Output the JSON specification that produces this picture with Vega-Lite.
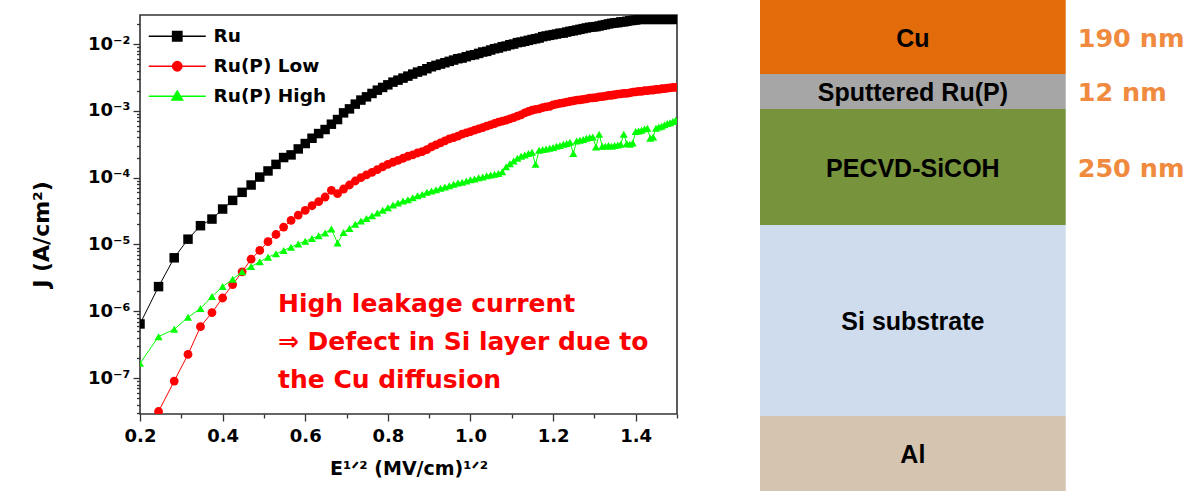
{
  "$schema": "https://vega.github.io/schema/vega-lite/v6.json",
  "padding": {"left": 29, "top": 0, "right": 0, "bottom": 0},
  "background": "white",
  "spacing": 81,
  "resolve": {"scale": {"color": "independent"}, "legend": {"color": "independent"}},
  "config": {
    "view": {"stroke": null},
    "axis": {
      "labelFont": "DejaVu Sans", "labelFontWeight": "bold", "labelColor": "#000000",
      "titleFont": "DejaVu Sans", "titleFontWeight": "bold", "titleColor": "#000000",
      "tickColor": "#333333", "tickWidth": 1.3, "grid": false, "domain": false,
      "labelOverlap": false, "labelFlush": false, "labelBound": false
    }
  },
  "hconcat": [
    {
      "width": 537,
      "height": 399,
      "view": {"stroke": "#333333", "strokeWidth": 1.6},
      "layer": [
        {
          "data": {"name": "jv"},
          "transform": [
            {"fold": ["Ru", "Ru(P) Low", "Ru(P) High"], "as": ["series", "J"]},
            {"filter": "isValid(datum.J)"}
          ],
          "mark": {"type": "line", "strokeWidth": 1, "clip": true},
          "encoding": {
            "x": {
              "field": "E", "type": "quantitative",
              "scale": {"domain": [0.2, 1.5], "nice": false, "zero": false},
              "axis": {
                "orient": "bottom",
                "values": [0.2, 0.3, 0.4, 0.5, 0.6, 0.7, 0.8, 0.9, 1.0, 1.1, 1.2, 1.3, 1.4, 1.5],
                "labelExpr": "indexof([0.2, 0.4, 0.6, 0.8, 1, 1.2, 1.4], datum.value) >= 0 ? format(datum.value, '.1f') : ''",
                "tickSize": {"condition": {"test": "indexof([0.2, 0.4, 0.6, 0.8, 1, 1.2, 1.4], datum.value) >= 0", "value": 7}, "value": 4},
                "labelFontSize": 18,
                "labelPadding": 6,
                "title": "E¹ᐟ² (MV/cm)¹ᐟ²",
                "titleFontSize": 19,
                "titlePadding": 14
              }
            },
            "y": {
              "field": "J", "type": "quantitative",
              "scale": {"type": "log", "domain": [2.9e-8, 0.0272], "nice": false},
              "axis": {
                "orient": "left",
                "values": [3e-8, 4e-8, 5e-8, 6e-8, 7e-8, 8e-8, 9e-8,
                           1e-7, 2e-7, 3e-7, 4e-7, 5e-7, 6e-7, 7e-7, 8e-7, 9e-7,
                           1e-6, 2e-6, 3e-6, 4e-6, 5e-6, 6e-6, 7e-6, 8e-6, 9e-6,
                           1e-5, 2e-5, 3e-5, 4e-5, 5e-5, 6e-5, 7e-5, 8e-5, 9e-5,
                           1e-4, 2e-4, 3e-4, 4e-4, 5e-4, 6e-4, 7e-4, 8e-4, 9e-4,
                           1e-3, 2e-3, 3e-3, 4e-3, 5e-3, 6e-3, 7e-3, 8e-3, 9e-3,
                           1e-2, 2e-2],
                "labelExpr": "datum.value === 0.01 ? '10⁻²' : datum.value === 0.001 ? '10⁻³' : datum.value === 0.0001 ? '10⁻⁴' : datum.value === 0.00001 ? '10⁻⁵' : datum.value === 0.000001 ? '10⁻⁶' : datum.value === 0.0000001 ? '10⁻⁷' : ''",
                "tickSize": {"condition": {"test": "indexof([0.01, 0.001, 0.0001, 0.00001, 0.000001, 0.0000001], datum.value) >= 0", "value": 7}, "value": 3.5},
                "labelFontSize": 18,
                "labelPadding": 3,
                "title": "J (A/cm²)",
                "titleFontSize": 22,
                "titlePadding": 34,
                "titleY": 219
              }
            },
            "color": {
              "field": "series", "type": "nominal",
              "scale": {"domain": ["Ru", "Ru(P) Low", "Ru(P) High"], "range": ["#000000", "#ff0000", "#00ff00"]},
              "legend": {
                "orient": "none", "legendX": 28, "legendY": 12, "title": null, "padding": 0,
                "labelFont": "DejaVu Sans", "labelFontSize": 18.5, "labelFontWeight": "bold", "labelColor": "#000000",
                "labelOffset": 27, "symbolSize": 100, "rowPadding": 11,
                "encode": {
                  "symbols": {
                    "update": {
                      "shape": {"signal": "datum.value === 'Ru' ? 'M-5.7,0H5.7M-0.95,-0.95H0.95V0.95H-0.95Z' : datum.value === 'Ru(P) Low' ? 'M-5.7,0H5.7M-0.95,0A0.95,0.95,0,1,0,0.95,0A0.95,0.95,0,1,0,-0.95,0Z' : 'M-5.7,0H5.7M0,-1.1L1.1,0.75H-1.1Z'"},
                      "fill": {"signal": "datum.value === 'Ru' ? '#000000' : datum.value === 'Ru(P) Low' ? '#ff0000' : '#00ff00'"},
                      "stroke": {"signal": "datum.value === 'Ru' ? '#000000' : datum.value === 'Ru(P) Low' ? '#ff0000' : '#00ff00'"},
                      "strokeWidth": {"value": 1.3},
                      "opacity": {"value": 1},
                      "fillOpacity": {"value": 1},
                      "strokeOpacity": {"value": 1}
                    }
                  }
                }
              }
            }
          }
        },
        {
          "data": {"name": "jv"},
          "transform": [
            {"fold": ["Ru", "Ru(P) Low", "Ru(P) High"], "as": ["series", "J"]},
            {"filter": "isValid(datum.J)"}
          ],
          "mark": {"type": "point", "filled": true, "opacity": 1, "strokeWidth": 0, "clip": true},
          "encoding": {
            "x": {"field": "E", "type": "quantitative"},
            "y": {"field": "J", "type": "quantitative"},
            "color": {"field": "series", "type": "nominal"},
            "shape": {
              "field": "series", "type": "nominal",
              "scale": {"domain": ["Ru", "Ru(P) Low", "Ru(P) High"], "range": ["square", "circle", "triangle-up"]},
              "legend": null
            },
            "size": {
              "field": "series", "type": "nominal",
              "scale": {"domain": ["Ru", "Ru(P) Low", "Ru(P) High"], "range": [90, 65, 90]},
              "legend": null
            }
          }
        },
        {
          "data": {"values": [{"note": ["High leakage current", "⇒ Defect in Si layer due to", "the Cu diffusion"], "E": 0.534, "J": 9.73e-7}]},
          "mark": {
            "type": "text",
            "font": "DejaVu Sans", "fontWeight": "bold", "fontSize": 25,
            "align": "left", "baseline": "alphabetic", "lineHeight": 38,
            "fill": "#ff0000"
          },
          "encoding": {
            "x": {"field": "E", "type": "quantitative"},
            "y": {"field": "J", "type": "quantitative"},
            "text": {"field": "note"}
          }
        }
      ]
    },
    {
      "width": 428,
      "height": 476,
      "data": {
        "values": [
          {"layer": "Cu", "top": 0, "bottom": 74, "thickness": "190 nm"},
          {"layer": "Sputtered Ru(P)", "top": 74, "bottom": 109, "thickness": "12 nm"},
          {"layer": "PECVD-SiCOH", "top": 109, "bottom": 225, "thickness": "250 nm"},
          {"layer": "Si substrate", "top": 225, "bottom": 416, "thickness": ""},
          {"layer": "Al", "top": 416, "bottom": 491, "thickness": ""}
        ]
      },
      "transform": [{"calculate": "(datum.top + datum.bottom) / 2", "as": "mid"}],
      "layer": [
        {
          "mark": {"type": "rect"},
          "encoding": {
            "x": {"datum": 0, "type": "quantitative", "scale": {"domain": [0, 1.4], "nice": false, "zero": false}, "axis": null},
            "x2": {"datum": 1},
            "y": {"field": "top", "type": "quantitative", "scale": {"domain": [15, 491], "reverse": true, "nice": false, "zero": false}, "axis": null},
            "y2": {"field": "bottom"},
            "color": {
              "field": "layer", "type": "nominal",
              "scale": {
                "domain": ["Cu", "Sputtered Ru(P)", "PECVD-SiCOH", "Si substrate", "Al"],
                "range": ["#e36c0a", "#a6a6a6", "#77933c", "#cfdcee", "#d5c4b0"]
              },
              "legend": null
            }
          }
        },
        {
          "mark": {"type": "text", "font": "Liberation Sans", "fontWeight": "bold", "fontSize": 25, "color": "#000000", "dy": 1.5},
          "encoding": {
            "x": {"datum": 0.5, "type": "quantitative"},
            "y": {"field": "mid", "type": "quantitative"},
            "text": {"field": "layer"}
          }
        },
        {
          "mark": {"type": "text", "font": "DejaVu Sans", "fontWeight": "bold", "fontSize": 25.5, "color": "#f08a3e", "align": "left", "dy": 1.5},
          "encoding": {
            "x": {"datum": 1.039, "type": "quantitative"},
            "y": {"field": "mid", "type": "quantitative"},
            "text": {"field": "thickness"}
          }
        }
      ]
    }
  ],
  "datasets": {
    "jv": [
      {"E": 0.2, "Ru": 6.46e-7, "Ru(P) Low": null, "Ru(P) High": 1.66e-7},
      {"E": 0.2449, "Ru": 2.34e-6, "Ru(P) Low": 3.16e-8, "Ru(P) High": 4.17e-7},
      {"E": 0.2828, "Ru": 6.31e-6, "Ru(P) Low": 9.02e-8, "Ru(P) High": 5.37e-7},
      {"E": 0.3162, "Ru": 1.20e-5, "Ru(P) Low": 2.26e-7, "Ru(P) High": 8.13e-7},
      {"E": 0.3464, "Ru": 1.91e-5, "Ru(P) Low": 5.89e-7, "Ru(P) High": 1.10e-6},
      {"E": 0.3742, "Ru": 2.40e-5, "Ru(P) Low": 9.55e-7, "Ru(P) High": 1.66e-6},
      {"E": 0.4, "Ru": 3.39e-5, "Ru(P) Low": 1.58e-6, "Ru(P) High": 2.34e-6},
      {"E": 0.4243, "Ru": 4.57e-5, "Ru(P) Low": 2.51e-6, "Ru(P) High": 3.02e-6},
      {"E": 0.4472, "Ru": 6.03e-5, "Ru(P) Low": 3.89e-6, "Ru(P) High": 3.89e-6},
      {"E": 0.469, "Ru": 7.76e-5, "Ru(P) Low": 6.03e-6, "Ru(P) High": 4.68e-6},
      {"E": 0.4899, "Ru": 1.02e-4, "Ru(P) Low": 8.13e-6, "Ru(P) High": 5.50e-6},
      {"E": 0.5099, "Ru": 1.26e-4, "Ru(P) Low": 1.10e-5, "Ru(P) High": 6.46e-6},
      {"E": 0.5292, "Ru": 1.58e-4, "Ru(P) Low": 1.41e-5, "Ru(P) High": 7.24e-6},
      {"E": 0.5477, "Ru": 2.00e-4, "Ru(P) Low": 1.82e-5, "Ru(P) High": 8.13e-6},
      {"E": 0.5657, "Ru": 2.19e-4, "Ru(P) Low": 2.29e-5, "Ru(P) High": 9.12e-6},
      {"E": 0.5831, "Ru": 2.69e-4, "Ru(P) Low": 2.75e-5, "Ru(P) High": 1.02e-5},
      {"E": 0.6, "Ru": 3.24e-4, "Ru(P) Low": 3.24e-5, "Ru(P) High": 1.12e-5},
      {"E": 0.6164, "Ru": 3.89e-4, "Ru(P) Low": 3.80e-5, "Ru(P) High": 1.23e-5},
      {"E": 0.6325, "Ru": 4.57e-4, "Ru(P) Low": 4.37e-5, "Ru(P) High": 1.35e-5},
      {"E": 0.6481, "Ru": 5.25e-4, "Ru(P) Low": 5.13e-5, "Ru(P) High": 1.48e-5},
      {"E": 0.6633, "Ru": 6.31e-4, "Ru(P) Low": 6.46e-5, "Ru(P) High": 1.70e-5},
      {"E": 0.6782, "Ru": 7.41e-4, "Ru(P) Low": 5.75e-5, "Ru(P) High": 1.05e-5},
      {"E": 0.6928, "Ru": 9.33e-4, "Ru(P) Low": 6.76e-5, "Ru(P) High": 1.51e-5},
      {"E": 0.7071, "Ru": 1.07e-3, "Ru(P) Low": 7.76e-5, "Ru(P) High": 1.74e-5},
      {"E": 0.7211, "Ru": 1.26e-3, "Ru(P) Low": 8.91e-5, "Ru(P) High": 2.00e-5},
      {"E": 0.7348, "Ru": 1.45e-3, "Ru(P) Low": 1.00e-4, "Ru(P) High": 2.24e-5},
      {"E": 0.7483, "Ru": 1.62e-3, "Ru(P) Low": 1.10e-4, "Ru(P) High": 2.45e-5},
      {"E": 0.7616, "Ru": 1.82e-3, "Ru(P) Low": 1.20e-4, "Ru(P) High": 2.69e-5},
      {"E": 0.7746, "Ru": 2.04e-3, "Ru(P) Low": 1.32e-4, "Ru(P) High": 2.95e-5},
      {"E": 0.7874, "Ru": 2.24e-3, "Ru(P) Low": 1.45e-4, "Ru(P) High": 3.24e-5},
      {"E": 0.8, "Ru": 2.45e-3, "Ru(P) Low": 1.58e-4, "Ru(P) High": 3.55e-5},
      {"E": 0.8124, "Ru": 2.69e-3, "Ru(P) Low": 1.70e-4, "Ru(P) High": 3.89e-5},
      {"E": 0.8246, "Ru": 2.88e-3, "Ru(P) Low": 1.82e-4, "Ru(P) High": 4.17e-5},
      {"E": 0.8367, "Ru": 3.09e-3, "Ru(P) Low": 1.95e-4, "Ru(P) High": 4.47e-5},
      {"E": 0.8485, "Ru": 3.31e-3, "Ru(P) Low": 2.09e-4, "Ru(P) High": 4.68e-5},
      {"E": 0.8602, "Ru": 3.55e-3, "Ru(P) Low": 2.19e-4, "Ru(P) High": 5.01e-5},
      {"E": 0.8718, "Ru": 3.80e-3, "Ru(P) Low": 2.34e-4, "Ru(P) High": 5.37e-5},
      {"E": 0.8832, "Ru": 3.98e-3, "Ru(P) Low": 2.45e-4, "Ru(P) High": 5.62e-5},
      {"E": 0.8944, "Ru": 4.27e-3, "Ru(P) Low": 2.63e-4, "Ru(P) High": 6.03e-5},
      {"E": 0.9055, "Ru": 4.57e-3, "Ru(P) Low": 2.88e-4, "Ru(P) High": 6.31e-5},
      {"E": 0.9165, "Ru": 4.79e-3, "Ru(P) Low": 3.09e-4, "Ru(P) High": 6.61e-5},
      {"E": 0.9274, "Ru": 5.01e-3, "Ru(P) Low": 3.31e-4, "Ru(P) High": 6.92e-5},
      {"E": 0.9381, "Ru": 5.25e-3, "Ru(P) Low": 3.55e-4, "Ru(P) High": 7.24e-5},
      {"E": 0.9487, "Ru": 5.50e-3, "Ru(P) Low": 3.80e-4, "Ru(P) High": 7.59e-5},
      {"E": 0.9592, "Ru": 5.75e-3, "Ru(P) Low": 3.98e-4, "Ru(P) High": 7.94e-5},
      {"E": 0.9695, "Ru": 6.03e-3, "Ru(P) Low": 4.17e-4, "Ru(P) High": 8.32e-5},
      {"E": 0.9798, "Ru": 6.17e-3, "Ru(P) Low": 4.47e-4, "Ru(P) High": 8.51e-5},
      {"E": 0.9899, "Ru": 6.46e-3, "Ru(P) Low": 4.68e-4, "Ru(P) High": 8.91e-5},
      {"E": 1.0, "Ru": 6.76e-3, "Ru(P) Low": 4.90e-4, "Ru(P) High": 9.33e-5},
      {"E": 1.01, "Ru": 6.92e-3, "Ru(P) Low": 5.13e-4, "Ru(P) High": 9.55e-5},
      {"E": 1.0198, "Ru": 7.24e-3, "Ru(P) Low": 5.37e-4, "Ru(P) High": 1.00e-4},
      {"E": 1.0296, "Ru": 7.59e-3, "Ru(P) Low": 5.62e-4, "Ru(P) High": 1.02e-4},
      {"E": 1.0392, "Ru": 7.76e-3, "Ru(P) Low": 5.89e-4, "Ru(P) High": 1.07e-4},
      {"E": 1.0488, "Ru": 8.13e-3, "Ru(P) Low": 6.17e-4, "Ru(P) High": 1.10e-4},
      {"E": 1.0583, "Ru": 8.51e-3, "Ru(P) Low": 6.46e-4, "Ru(P) High": 1.12e-4},
      {"E": 1.0677, "Ru": 8.71e-3, "Ru(P) Low": 6.76e-4, "Ru(P) High": 1.15e-4},
      {"E": 1.077, "Ru": 9.12e-3, "Ru(P) Low": 7.00e-4, "Ru(P) High": 1.23e-4},
      {"E": 1.0863, "Ru": 9.33e-3, "Ru(P) Low": 7.24e-4, "Ru(P) High": 1.45e-4},
      {"E": 1.0954, "Ru": 9.77e-3, "Ru(P) Low": 7.59e-4, "Ru(P) High": 1.62e-4},
      {"E": 1.1045, "Ru": 1.00e-2, "Ru(P) Low": 7.94e-4, "Ru(P) High": 1.78e-4},
      {"E": 1.1136, "Ru": 1.05e-2, "Ru(P) Low": 8.32e-4, "Ru(P) High": 1.95e-4},
      {"E": 1.1225, "Ru": 1.07e-2, "Ru(P) Low": 8.71e-4, "Ru(P) High": 2.09e-4},
      {"E": 1.1314, "Ru": 1.10e-2, "Ru(P) Low": 9.33e-4, "Ru(P) High": 2.19e-4},
      {"E": 1.1402, "Ru": 1.135e-2, "Ru(P) Low": 9.77e-4, "Ru(P) High": 2.29e-4},
      {"E": 1.1489, "Ru": 1.17e-2, "Ru(P) Low": 1.02e-3, "Ru(P) High": 2.40e-4},
      {"E": 1.1576, "Ru": 1.20e-2, "Ru(P) Low": 1.05e-3, "Ru(P) High": 1.58e-4},
      {"E": 1.1662, "Ru": 1.23e-2, "Ru(P) Low": 1.07e-3, "Ru(P) High": 2.57e-4},
      {"E": 1.1747, "Ru": 1.29e-2, "Ru(P) Low": 1.12e-3, "Ru(P) High": 2.63e-4},
      {"E": 1.1832, "Ru": 1.32e-2, "Ru(P) Low": 1.15e-3, "Ru(P) High": 2.69e-4},
      {"E": 1.1916, "Ru": 1.35e-2, "Ru(P) Low": 1.17e-3, "Ru(P) High": 2.75e-4},
      {"E": 1.2, "Ru": 1.38e-2, "Ru(P) Low": 1.23e-3, "Ru(P) High": 2.82e-4},
      {"E": 1.2083, "Ru": 1.41e-2, "Ru(P) Low": 1.26e-3, "Ru(P) High": 2.95e-4},
      {"E": 1.2166, "Ru": 1.45e-2, "Ru(P) Low": 1.29e-3, "Ru(P) High": 3.02e-4},
      {"E": 1.2247, "Ru": 1.46e-2, "Ru(P) Low": 1.32e-3, "Ru(P) High": 3.16e-4},
      {"E": 1.2329, "Ru": 1.51e-2, "Ru(P) Low": 1.35e-3, "Ru(P) High": 3.24e-4},
      {"E": 1.241, "Ru": 1.55e-2, "Ru(P) Low": 1.38e-3, "Ru(P) High": 3.39e-4},
      {"E": 1.249, "Ru": 1.58e-2, "Ru(P) Low": 1.41e-3, "Ru(P) High": 2.29e-4},
      {"E": 1.257, "Ru": 1.62e-2, "Ru(P) Low": 1.45e-3, "Ru(P) High": 3.55e-4},
      {"E": 1.2649, "Ru": 1.66e-2, "Ru(P) Low": 1.46e-3, "Ru(P) High": 3.63e-4},
      {"E": 1.2728, "Ru": 1.70e-2, "Ru(P) Low": 1.48e-3, "Ru(P) High": 3.72e-4},
      {"E": 1.2806, "Ru": 1.74e-2, "Ru(P) Low": 1.51e-3, "Ru(P) High": 3.89e-4},
      {"E": 1.2884, "Ru": 1.78e-2, "Ru(P) Low": 1.55e-3, "Ru(P) High": 3.98e-4},
      {"E": 1.2961, "Ru": 1.80e-2, "Ru(P) Low": 1.56e-3, "Ru(P) High": 4.07e-4},
      {"E": 1.3038, "Ru": 1.82e-2, "Ru(P) Low": 1.58e-3, "Ru(P) High": 2.88e-4},
      {"E": 1.3115, "Ru": 1.86e-2, "Ru(P) Low": 1.62e-3, "Ru(P) High": 4.47e-4},
      {"E": 1.3191, "Ru": 1.91e-2, "Ru(P) Low": 1.63e-3, "Ru(P) High": 2.95e-4},
      {"E": 1.3266, "Ru": 1.95e-2, "Ru(P) Low": 1.66e-3, "Ru(P) High": 2.95e-4},
      {"E": 1.3342, "Ru": 2.00e-2, "Ru(P) Low": 1.70e-3, "Ru(P) High": 3.02e-4},
      {"E": 1.3416, "Ru": 2.04e-2, "Ru(P) Low": 1.71e-3, "Ru(P) High": 2.95e-4},
      {"E": 1.3491, "Ru": 2.07e-2, "Ru(P) Low": 1.74e-3, "Ru(P) High": 3.02e-4},
      {"E": 1.3565, "Ru": 2.09e-2, "Ru(P) Low": 1.78e-3, "Ru(P) High": 3.09e-4},
      {"E": 1.3638, "Ru": 2.14e-2, "Ru(P) Low": 1.79e-3, "Ru(P) High": 3.16e-4},
      {"E": 1.3711, "Ru": 2.15e-2, "Ru(P) Low": 1.82e-3, "Ru(P) High": 4.47e-4},
      {"E": 1.3784, "Ru": 2.19e-2, "Ru(P) Low": 1.83e-3, "Ru(P) High": 3.24e-4},
      {"E": 1.3856, "Ru": 2.24e-2, "Ru(P) Low": 1.86e-3, "Ru(P) High": 3.16e-4},
      {"E": 1.3928, "Ru": 2.26e-2, "Ru(P) Low": 1.91e-3, "Ru(P) High": 3.31e-4},
      {"E": 1.4, "Ru": 2.29e-2, "Ru(P) Low": 1.92e-3, "Ru(P) High": 4.90e-4},
      {"E": 1.4071, "Ru": 2.34e-2, "Ru(P) Low": 1.95e-3, "Ru(P) High": 5.01e-4},
      {"E": 1.4142, "Ru": 2.34e-2, "Ru(P) Low": 1.96e-3, "Ru(P) High": 5.13e-4},
      {"E": 1.4213, "Ru": 2.34e-2, "Ru(P) Low": 2.00e-3, "Ru(P) High": 5.37e-4},
      {"E": 1.4283, "Ru": 2.34e-2, "Ru(P) Low": 2.01e-3, "Ru(P) High": 5.50e-4},
      {"E": 1.4353, "Ru": 2.34e-2, "Ru(P) Low": 2.04e-3, "Ru(P) High": 3.89e-4},
      {"E": 1.4422, "Ru": 2.34e-2, "Ru(P) Low": 2.05e-3, "Ru(P) High": 4.07e-4},
      {"E": 1.4491, "Ru": 2.34e-2, "Ru(P) Low": 2.09e-3, "Ru(P) High": 5.50e-4},
      {"E": 1.456, "Ru": 2.34e-2, "Ru(P) Low": 2.10e-3, "Ru(P) High": 5.75e-4},
      {"E": 1.4629, "Ru": 2.34e-2, "Ru(P) Low": 2.14e-3, "Ru(P) High": 5.89e-4},
      {"E": 1.4697, "Ru": 2.34e-2, "Ru(P) Low": 2.15e-3, "Ru(P) High": 6.17e-4},
      {"E": 1.4765, "Ru": 2.34e-2, "Ru(P) Low": 2.19e-3, "Ru(P) High": 6.46e-4},
      {"E": 1.4832, "Ru": 2.34e-2, "Ru(P) Low": 2.20e-3, "Ru(P) High": 6.61e-4},
      {"E": 1.49, "Ru": 2.34e-2, "Ru(P) Low": 2.24e-3, "Ru(P) High": 6.92e-4},
      {"E": 1.4967, "Ru": 2.34e-2, "Ru(P) Low": 2.25e-3, "Ru(P) High": 7.24e-4}
    ]
  }
}
